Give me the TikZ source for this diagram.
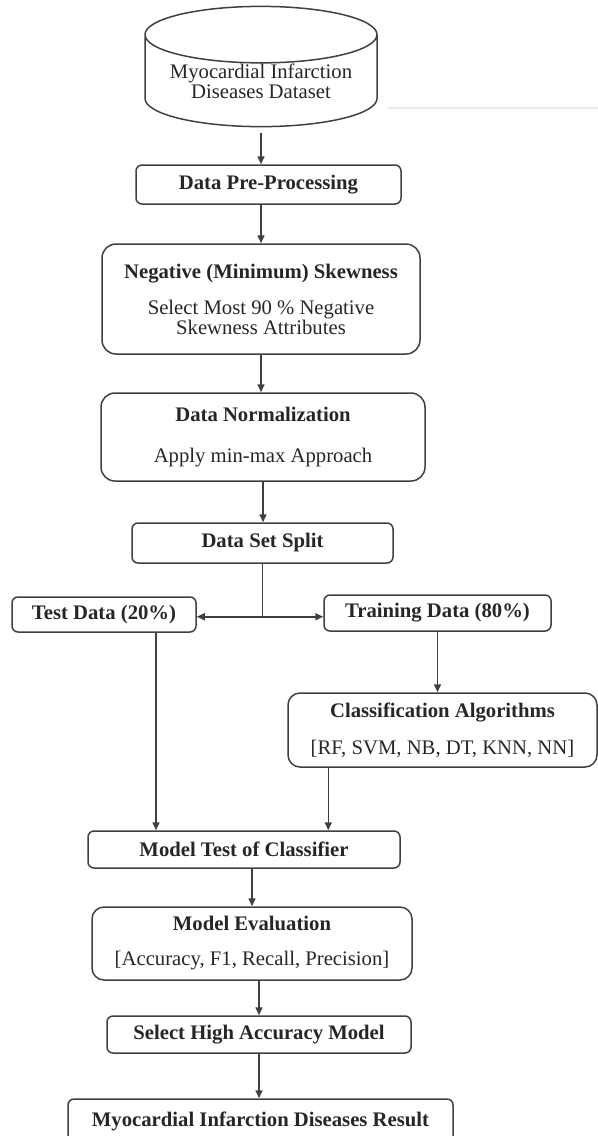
\documentclass[tikz,border=0pt]{standalone}
\usepackage{fontspec}
\setmainfont{Liberation Serif}
\usetikzlibrary{shapes.geometric,arrows.meta,positioning,calc}
\newcommand\PxUnit{0.5pt}
\newcommand\BoxFont{\fontsize{10.35}{10}\selectfont}
\tikzset{
  procbox/.style={
    draw = black!75,
    line width = 0.75pt,
    rounded corners = 3pt,
    shape = rectangle,
    inner sep = 0pt,
    font = \BoxFont\bfseries,
    text = black!85
  },
}
\tikzset{
  bigbox/.style={
    procbox,
    rounded corners = 7pt,
    align = center
  },
}
\tikzset{
  store/.style={
    draw = black!75,
    line width = 0.75pt,
    shape = cylinder,
    shape border rotate = 90,
    aspect = 0.31,
    inner sep = 0pt,
    align = center,
    font = \BoxFont,
    text = black!85
  },
  flow/.style={
    draw = black!75,
    line width = 0.75pt,
    -{Triangle[length=4pt,width=3.5pt]}
  },
  every picture/.style = {
    font = \BoxFont
  }
}

\begin{document}
\begin{tikzpicture}[x=\PxUnit, y=-\PxUnit]
    \clip (0,0) rectangle (598,1136);

    \node[store, minimum width=116pt, minimum height=57pt] (dataset) at (261,81) {Myocardial Infarction\\Diseases Dataset};
    \draw[black!8, line width=1pt] (388,108) -- (598,108);

    \node[procbox, minimum width=132.5pt, minimum height=19.5pt] (prep) at (268.5,184.5) {Data Pre-Processing};
    \node[bigbox, minimum width=159pt, minimum height=55pt] (skew) at (261,299) {Negative (Minimum) Skewness\\[8pt] \mdseries Select Most 90 \% Negative\\ \mdseries Skewness Attributes};
    \node[bigbox, minimum width=162pt, minimum height=44pt] (norm) at (263,437) {Data Normalization\\[10.5pt] \mdseries Apply min-max Approach};
    \node[procbox, minimum width=130.5pt, minimum height=20pt] (split) at (262.5,543) {Data Set Split};

    \node[procbox, minimum width=92pt, minimum height=17.5pt] (test) at (104,614.5) {Test Data (20\%)};
    \node[procbox, minimum width=113.5pt, minimum height=18pt] (train) at (437.5,613) {Training Data (80\%)};
    \node[bigbox, rounded corners=6pt, minimum width=154.5pt, minimum height=37pt] (class) at (442.5,730) {Classification Algorithms\\[8.5pt] \mdseries [RF, SVM, NB, DT, KNN, NN]};

    \node[procbox, minimum width=156pt, minimum height=18.5pt] (mtest) at (244,849.5) {Model Test of Classifier};
    \node[bigbox, rounded corners=6pt, minimum width=160pt, minimum height=36.5pt] (eval) at (252,943.5) {Model Evaluation\\[7.5pt] \mdseries [Accuracy, F1, Recall, Precision]};
    \node[procbox, minimum width=152pt, minimum height=18.5pt] (select) at (259,1034.5) {Select High Accuracy Model};
    \node[procbox, minimum width=192.5pt, minimum height=23pt] (result) at (260.5,1122) {\raisebox{2.5pt}{Myocardial Infarction Diseases Result}};

    \draw[flow, shorten <=3pt] (dataset.south) -- (dataset.south |- prep.north);
    \draw[flow] (prep.south -| skew.north) -- (skew.north);
    \draw[flow] (skew.south) -- (skew.south |- norm.north);
    \draw[flow] (norm.south) -- (norm.south |- split.north);

    \coordinate (fork) at ([yshift=-26.5pt]split.south);
    \draw[black!75, line width=0.75pt] (split.south) -- (fork);
    \draw[flow] (fork) -- (fork -| test.east);
    \draw[flow] (fork) -- (fork -| train.west);

    \draw[flow] (train.south) -- (train.south |- class.north);
    \draw[flow] ([xshift=26pt]test.south) -- ([xshift=26pt]test.south |- mtest.north);
    \draw[flow] ([xshift=20.5pt]class.south west) -- ([xshift=20.5pt]class.south west |- mtest.north);

    \draw[flow] (mtest.south -| eval.north) -- (eval.north);
    \draw[flow] (eval.south -| select.north) -- (select.north);
    \draw[flow] (select.south) -- (select.south |- result.north);
\end{tikzpicture}
\end{document}
